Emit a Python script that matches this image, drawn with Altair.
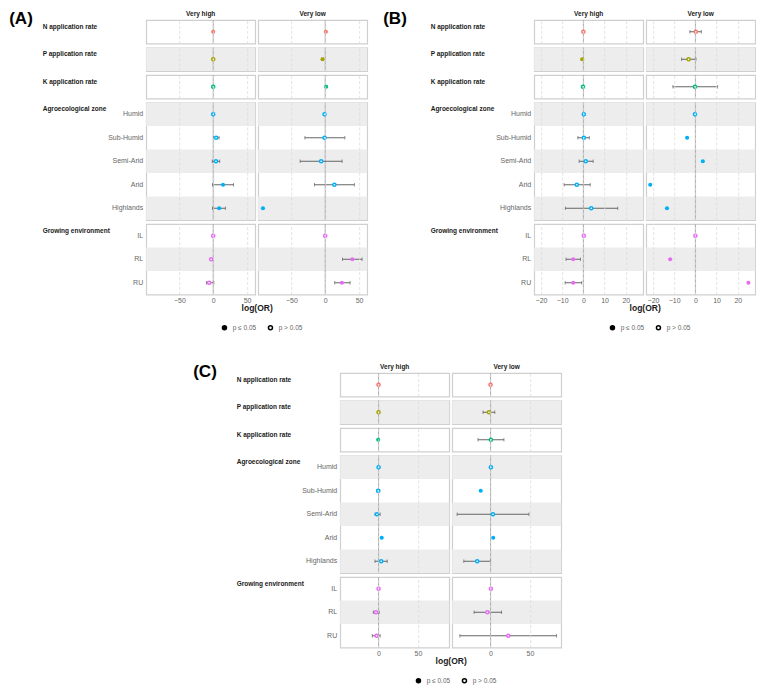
import altair as alt
import pandas as pd

# ---------------- data ----------------
groups = ["N application rate", "P application rate", "K application rate",
          "Agroecological zone", "Growing environment"]
categories = ["N", "P", "K", "Humid", "Sub-Humid", "Semi-Arid", "Arid", "Highlands", "IL", "RL", "RU"]
cat_group = [0, 1, 2, 3, 3, 3, 3, 3, 4, 4, 4]
levels = ["Very high", "Very low"]
group_colors = ["#F8766D", "#A3A500", "#00BF7D", "#00B0F6", "#E76BF3"]
figure_tags = ["(A)", "(B)", "(C)"]
sig_labels = ["p \u2264 0.05", "p > 0.05"]

# Figure A
a_high_est = [0, 0, 0, 0, 4.3, 4, 14.5, 8.7, 0, -3, -6]
a_high_lo = [None, None, None, None, 0.5, -1.5, -1, -1, None, None, -10]
a_high_hi = [None, None, None, None, 8.7, 9.6, 30, 18, None, None, 1]
a_high_sig = [1, 0, 0, 0, 0, 0, 1, 1, 0, 0, 0]
a_low_est = [1, -4, 1.5, -1, -1, -6, 13.5, -92, 0, 40, 24.6]
a_low_lo = [None, -5.5, None, None, -30, -37, -16, None, None, 25.5, 14]
a_low_hi = [None, -2.5, None, None, 29, 25, 43, None, None, 54.5, 36.7]
a_low_sig = [1, 1, 1, 0, 0, 0, 0, 1, 0, 1, 1]

# Figure B
b_high_est = [0, -0.6, -0.2, 0.2, 0.2, 1.1, -3.1, 3.7, 0.2, -4.8, -4.8]
b_high_lo = [None, None, None, None, -2.6, -2, -9.1, -8.5, None, -8.2, -8.6]
b_high_hi = [None, None, None, None, 2.8, 4.6, 3.2, 16.2, None, -1.4, -0.8]
b_high_sig = [0, 1, 0, 0, 0, 0, 0, 0, 0, 1, 1]
b_low_est = [0.2, -3.2, -0.2, -0.2, -3.9, 3.5, -21.3, -13.4, 0, -11.9, 25]
b_low_lo = [-2.6, -6.5, -10.6, None, None, None, None, None, None, None, None]
b_low_hi = [2.8, 0.3, 10.5, None, None, None, None, None, None, None, None]
b_low_sig = [0, 0, 0, 0, 1, 1, 1, 1, 0, 1, 1]

# Figure C
c_high_est = [0, 0, -0.5, 0, -0.5, -2, 4, 3.3, 0, -3.3, -2.5]
c_high_lo = [None, None, None, None, -2, -4.6, None, -4.6, None, -6.7, -8]
c_high_hi = [None, None, None, None, 1.5, 2, None, 11, None, 0.8, 2]
c_high_sig = [0, 0, 1, 0, 0, 0, 1, 0, 0, 0, 0]
c_low_est = [0, -2, 0.4, 0.4, -12.5, 3, 3.3, -17, 0.4, -4, 22.5]
c_low_lo = [None, -9.6, -16, None, None, -42.5, None, -34, None, -21, -39]
c_low_hi = [None, 5.4, 17, None, None, 48.75, None, 0, None, 14, 83.75]
c_low_sig = [0, 0, 0, 0, 1, 0, 1, 0, 0, 0, 0]

x_domains = [[-99, 62], [-23.2, 28.2], [-48.75, 89.75]]
x_ticks = [[-50, 0, 50], [-20, -10, 0, 10, 20], [0, 50]]

figdata = [
    [(a_high_est, a_high_lo, a_high_hi, a_high_sig), (a_low_est, a_low_lo, a_low_hi, a_low_sig)],
    [(b_high_est, b_high_lo, b_high_hi, b_high_sig), (b_low_est, b_low_lo, b_low_hi, b_low_sig)],
    [(c_high_est, c_high_lo, c_high_hi, c_high_sig), (c_low_est, c_low_lo, c_low_hi, c_low_sig)],
]

rows = []
for fi, fig in enumerate(figdata):
    for li, (est, lo, hi, sig) in enumerate(fig):
        for ci, cat in enumerate(categories):
            rows.append(dict(fig=fi, level=levels[li], group=cat_group[ci], cat=cat,
                             stripe=ci % 2, est=est[ci], lo=lo[ci], hi=hi[ci],
                             p=sig_labels[0] if sig[ci] else sig_labels[1]))
df = pd.DataFrame(rows)

# ---------------- style ----------------
W = 109
R = 23.5
LABEL_W = 104
FONT = "Liberation Sans"
GRAY = "#666666"
DARK = "#1a1a1a"
STRIPE = "#EDEDED"
GRID = "#DADADA"
CI_COL = "#555555"
tag_x = [-137, -151, -147]
LEG_X = 75
LEG_Y = 304


def panel(fi, gi, li):
    d = df[(df.fig == fi) & (df.group == gi) & (df.level == levels[li])]
    cats = [c for c, g in zip(categories, cat_group) if g == gi]
    bottom = gi == len(groups) - 1
    left = li == 0
    col = group_colors[gi]

    if left:
        yaxis = alt.Axis(title=groups[gi], titleAngle=0, titleAlign="left", titleBaseline="top",
                         titleX=-LABEL_W, titleY=3, titleFontSize=6.5, titleFontWeight="bold",
                         titleColor=DARK, titleFont=FONT,
                         labelExpr="length(datum.value) <= 1 ? '' : datum.value",
                         labelFontSize=7, labelColor=GRAY, labelPadding=3.5, labelFont=FONT,
                         ticks=False, domain=False, grid=False)
    else:
        yaxis = None
    y = alt.Y("cat:N", sort=cats, scale=alt.Scale(paddingInner=0, paddingOuter=0), axis=yaxis)

    xs = alt.Scale(domain=x_domains[fi], nice=False, zero=False)
    if bottom:
        xaxis = alt.Axis(values=x_ticks[fi], title="log(OR)" if left else None, grid=True,
                         gridDash=[3, 2], gridColor=GRID, gridWidth=0.8, labelFontSize=7,
                         labelColor=GRAY, labelPadding=2, labelFont=FONT, ticks=False, domain=False,
                         titleFontSize=8.5, titleFontWeight="bold", titleX=W + 1.5, titleY=9,
                         titleColor=DARK, titleFont=FONT, zindex=1)
    else:
        xaxis = alt.Axis(values=x_ticks[fi], title=None, labels=False, ticks=False, domain=False,
                         grid=True, gridDash=[3, 2], gridColor=GRID, gridWidth=0.8, zindex=1)

    base = alt.Chart(d)
    first = base.transform_filter(f"datum.cat == '{cats[0]}'")
    stripes = base.transform_filter("datum.stripe == 1").mark_rect(color=STRIPE).encode(
        y=y, x=alt.value(0), x2=alt.value(W))
    zero = first.transform_calculate(z="0").mark_rule(
        color="#A8A8A8", strokeWidth=1).encode(x=alt.X("z:Q", scale=xs, axis=xaxis))
    ci = base.transform_filter("isValid(datum.lo)")
    ci_line = ci.mark_rule(color=CI_COL, strokeWidth=0.9).encode(
        x=alt.X("lo:Q", scale=xs, axis=xaxis), x2="hi:Q", y=y)
    cap_lo = ci.mark_tick(color=CI_COL, thickness=0.9, size=3.5).encode(
        x=alt.X("lo:Q", scale=xs, axis=xaxis), y=y)
    cap_hi = ci.mark_tick(color=CI_COL, thickness=0.9, size=3.5).encode(
        x=alt.X("hi:Q", scale=xs, axis=xaxis), y=y)
    filled = base.transform_filter(f"datum.p == '{sig_labels[0]}'").mark_point(
        shape="circle", filled=True, size=17, color=col, opacity=1).encode(
        x=alt.X("est:Q", scale=xs, axis=xaxis), y=y)
    opened = base.transform_filter(f"datum.p == '{sig_labels[1]}'").mark_point(
        shape="circle", size=10, stroke=col, strokeWidth=1.5, opacity=1).encode(
        x=alt.X("est:Q", scale=xs, axis=xaxis), y=y,
        fill=alt.Fill("p:N", scale=alt.Scale(domain=sig_labels, range=["black", "white"]),
                      legend=alt.Legend(title=None, orient="none", legendX=LEG_X, legendY=LEG_Y,
                                        direction="horizontal", symbolType="circle", symbolSize=16,
                                        symbolStrokeColor="black", symbolStrokeWidth=1.5,
                                        labelFontSize=6.5, labelColor=GRAY, labelFont=FONT,
                                        columnPadding=9, labelOffset=5)))

    layers = [stripes, zero, ci_line, cap_lo, cap_hi, filled, opened]
    if gi == 0:
        header = first.mark_text(text=levels[li], fontSize=6.5, fontWeight="bold", font=FONT,
                                 color=DARK, align="center", baseline="middle").encode(
            x=alt.value(W / 2), y=alt.value(-6.5))
        layers.append(header)
        if li == 0:
            tag = first.mark_text(text=figure_tags[fi], fontSize=17, fontWeight="bold", font=FONT,
                                  color="black", align="left", baseline="top").encode(
                x=alt.value(tag_x[fi]), y=alt.value(-9.5))
            layers.append(tag)
    return alt.layer(*layers).properties(width=W, height=alt.Step(R))


def figure(fi):
    cells = [panel(fi, gi, li) for gi in range(len(groups)) for li in range(len(levels))]
    return alt.concat(*cells, columns=2, spacing={"row": 3.5, "column": 3}, bounds="flush")


top = alt.hconcat(figure(0), figure(1), spacing=14).resolve_scale(fill="independent").resolve_legend(
    fill="independent")
chart = alt.vconcat(top, figure(2), spacing=28, center=True).resolve_scale(
    fill="independent").resolve_legend(fill="independent")
chart = chart.properties(padding=0, background="white").configure(font=FONT).configure_view(
    stroke="#CFCFCF", strokeWidth=1.2)

chart.save("out.html", embed_options={"renderer": "svg", "actions": False})
